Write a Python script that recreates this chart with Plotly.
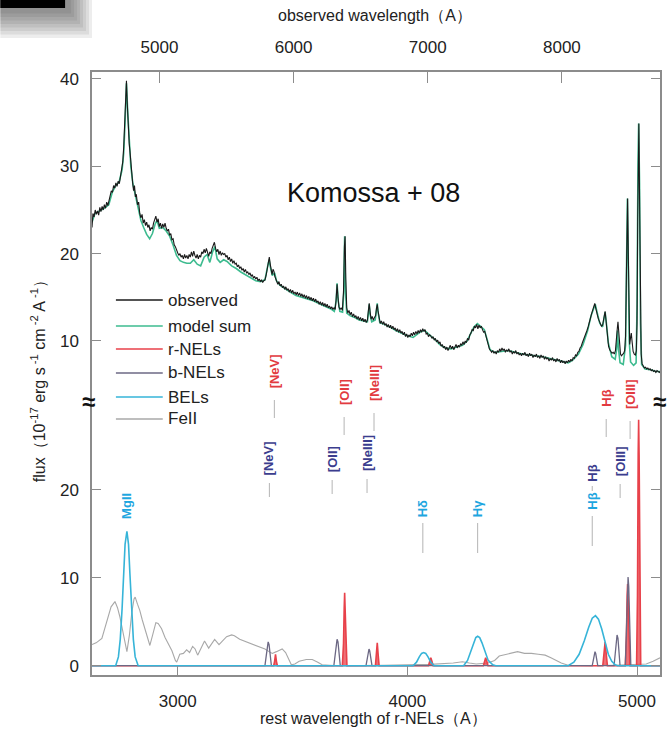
import plotly.graph_objects as go

# ---------------- data ----------------
Z_SHIFT = 0.712  # redshift: observed = rest * (1 + z)

# observed spectrum (rest wavelength [A], flux [1e-17 erg/s/cm2/A])
obs_spectrum = [
    (2627, 23.0), (2631, 24.6), (2636, 24.2), (2641, 25.0), (2646, 24.5), (2651, 24.9), (2656, 24.4),
    (2661, 25.3), (2666, 24.8), (2671, 25.4), (2676, 25.0), (2681, 25.6), (2686, 25.2), (2691, 25.9),
    (2696, 25.5), (2701, 26.2), (2706, 26.6), (2711, 27.2), (2716, 27.0), (2721, 27.8), (2726, 27.5),
    (2731, 28.1), (2736, 27.7), (2741, 28.3), (2746, 28.0), (2751, 28.9), (2756, 29.6), (2761, 30.5),
    (2765, 32.2), (2769, 34.6), (2773, 37.0), (2777, 39.8), (2780, 37.5), (2783, 35.0), (2786, 33.6),
    (2789, 32.6), (2792, 31.8), (2796, 30.2), (2800, 29.4), (2804, 28.1), (2808, 27.2), (2812, 27.8),
    (2816, 26.5), (2820, 26.8), (2825, 25.6), (2830, 25.9), (2835, 24.6), (2840, 24.1), (2845, 24.5),
    (2850, 23.5), (2855, 23.9), (2860, 23.2), (2865, 23.6), (2870, 23.0), (2875, 23.3), (2880, 22.6),
    (2885, 23.0), (2890, 22.8), (2895, 23.5), (2900, 23.8), (2905, 24.3), (2910, 23.6), (2915, 24.0),
    (2920, 23.1), (2925, 23.5), (2930, 22.9), (2935, 23.4), (2940, 23.0), (2945, 23.5), (2950, 22.9),
    (2955, 22.6), (2960, 22.8), (2965, 22.1), (2970, 22.3), (2975, 21.6), (2980, 21.7), (2985, 21.0),
    (2990, 20.8), (2995, 20.3), (3000, 20.1), (3005, 19.8), (3010, 20.0), (3015, 19.6), (3020, 19.8),
    (3025, 19.4), (3030, 19.9), (3035, 19.5), (3040, 19.8), (3045, 19.4), (3050, 19.9), (3055, 19.6),
    (3060, 20.2), (3065, 19.7), (3070, 20.3), (3075, 19.8), (3080, 19.5), (3085, 19.9), (3090, 19.4),
    (3095, 19.8), (3100, 19.6), (3105, 20.2), (3110, 20.0), (3115, 20.5), (3120, 20.1), (3125, 20.6),
    (3130, 20.0), (3135, 19.7), (3140, 20.2), (3145, 20.0), (3150, 20.6), (3155, 21.0), (3160, 21.3),
    (3165, 20.6), (3170, 20.2), (3175, 20.5), (3180, 19.9), (3185, 20.3), (3190, 19.8), (3195, 20.1),
    (3200, 19.9), (3205, 20.0), (3210, 19.6), (3215, 19.8), (3220, 19.3), (3225, 19.6), (3230, 19.1),
    (3235, 19.4), (3240, 18.9), (3245, 19.2), (3250, 18.8), (3255, 18.9), (3260, 18.5), (3265, 18.7),
    (3270, 18.3), (3275, 18.5), (3280, 18.1), (3285, 18.3), (3290, 17.9), (3295, 18.2), (3300, 17.8),
    (3305, 17.9), (3310, 17.6), (3315, 17.8), (3320, 17.4), (3325, 17.6), (3330, 17.2), (3335, 17.4),
    (3340, 17.1), (3345, 17.3), (3350, 16.9), (3355, 17.1), (3360, 16.8), (3365, 17.0), (3370, 16.7),
    (3375, 16.9), (3380, 17.0), (3385, 17.5), (3390, 18.4), (3395, 19.3), (3399, 19.6), (3403, 18.8),
    (3407, 18.0), (3411, 17.6), (3415, 18.2), (3419, 18.0), (3423, 17.4), (3427, 17.1), (3431, 16.9),
    (3436, 16.5), (3441, 16.8), (3446, 16.3), (3451, 16.5), (3456, 16.1), (3461, 16.3), (3466, 15.9),
    (3471, 16.2), (3476, 15.8), (3481, 16.0), (3486, 15.6), (3491, 15.9), (3496, 15.5), (3501, 15.8),
    (3506, 15.4), (3511, 15.6), (3516, 15.3), (3521, 15.6), (3526, 15.2), (3531, 15.5), (3536, 15.1),
    (3541, 15.4), (3546, 15.0), (3551, 15.3), (3556, 14.9), (3561, 15.2), (3566, 14.8), (3571, 15.1),
    (3576, 14.7), (3581, 15.0), (3586, 14.6), (3591, 14.9), (3596, 14.5), (3601, 14.8), (3606, 14.4),
    (3611, 14.6), (3616, 14.2), (3621, 14.5), (3626, 14.1), (3631, 14.4), (3636, 14.0), (3641, 14.3),
    (3646, 13.9), (3651, 14.2), (3656, 13.8), (3661, 14.0), (3666, 13.7), (3671, 13.9), (3676, 13.6),
    (3681, 13.8), (3686, 13.6), (3690, 14.8), (3694, 16.5), (3698, 15.0), (3702, 13.9), (3707, 13.6),
    (3712, 13.8), (3717, 13.5), (3722, 15.6), (3726, 20.8), (3729, 22.0), (3732, 17.2), (3736, 13.8),
    (3741, 13.2), (3746, 13.5), (3751, 13.0), (3756, 13.3), (3761, 12.8), (3766, 13.1), (3771, 12.7),
    (3776, 12.9), (3781, 12.5), (3786, 12.8), (3791, 12.4), (3796, 12.7), (3801, 12.3), (3806, 12.6),
    (3811, 12.2), (3816, 12.5), (3821, 12.1), (3826, 12.4), (3830, 13.4), (3834, 14.3), (3838, 13.3),
    (3842, 12.5), (3847, 12.8), (3852, 12.4), (3857, 12.7), (3862, 12.9), (3866, 13.8), (3869, 14.2),
    (3872, 13.5), (3877, 12.4), (3882, 12.0), (3887, 12.3), (3892, 11.9), (3897, 12.2), (3902, 11.8),
    (3907, 12.0), (3912, 11.6), (3917, 11.9), (3922, 11.5), (3927, 11.8), (3932, 11.4), (3937, 11.7),
    (3942, 11.3), (3947, 11.5), (3952, 11.1), (3957, 11.4), (3962, 11.0), (3967, 11.3), (3972, 10.9),
    (3977, 11.1), (3982, 10.7), (3987, 11.0), (3992, 10.5), (3997, 10.8), (4002, 10.4), (4007, 10.7),
    (4012, 10.5), (4017, 10.9), (4022, 10.6), (4027, 11.0), (4032, 10.7), (4037, 11.1), (4042, 10.8),
    (4047, 11.2), (4052, 10.9), (4057, 11.3), (4062, 11.0), (4067, 11.4), (4072, 11.1), (4077, 11.3),
    (4082, 10.8), (4087, 10.9), (4092, 10.5), (4097, 10.7), (4102, 10.6), (4107, 10.3), (4112, 10.5),
    (4117, 10.1), (4122, 10.3), (4127, 9.9), (4132, 10.1), (4137, 9.7), (4142, 9.9), (4147, 9.4),
    (4152, 9.6), (4157, 9.2), (4162, 9.4), (4167, 9.0), (4172, 9.3), (4177, 8.9), (4182, 9.2),
    (4187, 9.5), (4192, 9.1), (4197, 9.4), (4202, 9.0), (4207, 9.3), (4212, 9.6), (4217, 9.2),
    (4222, 9.5), (4227, 9.3), (4232, 9.7), (4237, 9.5), (4242, 9.9), (4247, 9.6), (4252, 10.0),
    (4257, 9.8), (4262, 10.3), (4267, 10.1), (4272, 10.7), (4277, 10.9), (4282, 11.3), (4287, 11.2),
    (4292, 11.7), (4297, 11.5), (4302, 11.9), (4307, 11.4), (4312, 11.8), (4317, 11.5), (4322, 11.7),
    (4327, 11.3), (4332, 11.0), (4337, 11.1), (4342, 10.6), (4347, 10.0), (4352, 9.5), (4357, 9.1),
    (4362, 8.9), (4367, 8.7), (4372, 8.9), (4377, 8.6), (4382, 8.8), (4387, 8.5), (4392, 8.9),
    (4397, 8.7), (4402, 9.1), (4407, 8.8), (4412, 9.2), (4417, 8.9), (4422, 9.1), (4427, 8.7),
    (4432, 9.0), (4437, 8.8), (4442, 9.1), (4447, 8.7), (4452, 8.9), (4457, 8.5), (4462, 8.8),
    (4467, 8.6), (4472, 8.9), (4477, 8.5), (4482, 8.7), (4487, 8.4), (4492, 8.6), (4497, 8.3),
    (4502, 8.6), (4507, 8.4), (4512, 8.7), (4517, 8.3), (4522, 8.5), (4527, 8.2), (4532, 8.6),
    (4537, 8.3), (4542, 8.5), (4547, 8.1), (4552, 8.4), (4557, 8.2), (4562, 8.5), (4567, 8.1),
    (4572, 8.3), (4577, 8.0), (4582, 8.4), (4587, 8.1), (4592, 8.3), (4597, 7.9), (4602, 8.2),
    (4607, 7.9), (4612, 8.1), (4617, 7.7), (4622, 8.0), (4627, 7.8), (4632, 8.1), (4637, 7.7),
    (4642, 7.9), (4647, 7.6), (4652, 8.0), (4657, 7.7), (4662, 7.9), (4667, 7.5), (4672, 7.8),
    (4677, 7.5), (4682, 7.7), (4687, 7.4), (4692, 7.7), (4697, 7.5), (4702, 7.8), (4707, 7.6),
    (4712, 7.9), (4717, 7.7), (4722, 8.1), (4727, 8.0), (4732, 8.4), (4737, 8.3), (4742, 8.7),
    (4747, 8.8), (4752, 9.2), (4757, 9.4), (4762, 9.8), (4767, 10.1), (4772, 10.5), (4777, 10.8),
    (4782, 11.2), (4787, 11.6), (4792, 12.0), (4797, 12.6), (4802, 13.1), (4807, 13.6), (4812, 14.0),
    (4816, 14.3), (4820, 13.8), (4824, 13.2), (4828, 12.9), (4832, 12.5), (4836, 12.2), (4840, 11.9),
    (4845, 11.7), (4850, 11.8), (4854, 12.4), (4858, 13.2), (4861, 13.4), (4864, 12.6), (4868, 11.2),
    (4872, 10.0), (4876, 9.4), (4881, 9.0), (4886, 8.8), (4891, 8.6), (4896, 8.7), (4901, 8.5),
    (4906, 8.9), (4910, 9.8), (4914, 11.4), (4917, 12.2), (4920, 11.0), (4924, 9.2), (4928, 8.5),
    (4932, 8.3), (4937, 8.4), (4942, 8.6), (4946, 8.9), (4950, 10.5), (4954, 18.0), (4957, 24.5),
    (4959, 26.3), (4962, 20.0), (4965, 12.0), (4968, 9.6), (4972, 10.4), (4975, 10.9), (4979, 9.8),
    (4983, 8.8), (4988, 8.5), (4993, 8.4), (4997, 8.9), (5000, 12.0), (5003, 24.0), (5006, 33.5),
    (5008, 34.9), (5011, 26.5), (5014, 14.0), (5018, 8.5), (5022, 7.4), (5027, 7.2), (5032, 6.9),
    (5037, 7.0), (5042, 6.8), (5047, 6.9), (5052, 6.7), (5057, 6.8), (5062, 6.6), (5067, 6.7),
    (5072, 6.5), (5077, 6.6), (5082, 6.4), (5087, 6.6), (5092, 6.5), (5097, 6.4), (5100, 6.5),
]

# sum of all fitted components
model_spectrum = [
    (2627, 23.6), (2640, 24.6), (2660, 24.9), (2680, 25.2), (2700, 25.6), (2715, 27.0), (2730, 27.8),
    (2745, 28.2), (2758, 29.6), (2765, 31.5), (2771, 35.0), (2777, 39.5), (2783, 36.0), (2789, 32.5),
    (2796, 30.0), (2805, 28.0), (2815, 26.8), (2828, 25.0), (2840, 23.8), (2852, 23.0), (2865, 22.2),
    (2878, 21.7), (2890, 22.3), (2902, 23.4), (2910, 23.8), (2920, 22.9), (2935, 23.0), (2950, 22.6),
    (2965, 22.0), (2980, 21.0), (2995, 19.8), (3010, 19.2), (3025, 19.0), (3040, 18.9), (3055, 18.9),
    (3070, 19.3), (3085, 18.8), (3100, 18.6), (3115, 19.6), (3128, 19.9), (3140, 19.0), (3152, 20.2),
    (3162, 20.8), (3172, 19.4), (3185, 19.0), (3200, 19.3), (3215, 19.1), (3235, 18.6), (3255, 18.3),
    (3275, 17.9), (3300, 17.5), (3320, 17.2), (3340, 16.9), (3360, 16.8), (3380, 17.0), (3392, 18.6),
    (3398, 19.3), (3404, 18.4), (3412, 17.5), (3422, 17.8), (3430, 16.9), (3445, 16.4), (3465, 16.0),
    (3490, 15.6), (3515, 15.2), (3540, 15.0), (3565, 14.8), (3590, 14.6), (3615, 14.3), (3640, 14.0),
    (3665, 13.7), (3682, 13.4), (3690, 14.6), (3694, 16.6), (3699, 14.6), (3706, 13.4), (3718, 13.3),
    (3723, 15.5), (3727, 22.0), (3731, 15.5), (3736, 13.2), (3750, 12.9), (3770, 12.7), (3790, 12.4),
    (3810, 12.3), (3826, 12.2), (3831, 13.3), (3834, 14.2), (3838, 13.0), (3845, 12.2), (3860, 12.4),
    (3865, 13.5), (3869, 14.3), (3873, 13.2), (3880, 12.1), (3900, 11.9), (3925, 11.6), (3950, 11.2),
    (3975, 10.9), (4000, 10.6), (4025, 10.4), (4045, 10.8), (4060, 11.1), (4075, 11.2), (4090, 10.8),
    (4105, 10.5), (4120, 10.2), (4140, 9.6), (4165, 9.2), (4190, 9.1), (4215, 9.3), (4240, 9.5),
    (4260, 10.0), (4275, 10.8), (4290, 11.6), (4305, 12.0), (4320, 11.7), (4335, 11.3), (4348, 10.1),
    (4360, 9.0), (4380, 8.7), (4410, 8.8), (4440, 8.9), (4470, 8.7), (4500, 8.5), (4530, 8.4),
    (4560, 8.3), (4590, 8.2), (4620, 8.0), (4650, 7.8), (4680, 7.6), (4700, 7.5), (4720, 7.8),
    (4745, 8.5), (4765, 9.6), (4785, 11.2), (4800, 12.9), (4812, 13.9), (4818, 14.2), (4826, 13.3),
    (4838, 12.0), (4850, 11.6), (4857, 12.8), (4861, 13.3), (4866, 12.2), (4875, 9.8), (4890, 8.2),
    (4905, 7.9), (4911, 9.0), (4915, 11.2), (4919, 9.2), (4926, 7.5), (4940, 7.3), (4950, 9.5),
    (4954, 18.0), (4958, 26.3), (4962, 19.0), (4966, 10.0), (4972, 7.6), (4985, 7.2), (4996, 7.5),
    (5000, 14.0), (5004, 30.0), (5007, 34.9), (5011, 28.0), (5015, 12.0), (5020, 7.3), (5035, 6.8),
    (5060, 6.7), (5080, 6.5), (5100, 6.5),
]

# red narrow emission lines
r_nel_spectrum = [
    (2627, 0), (3418, 0), (3422, 0.5), (3426, 1.3), (3430, 0.5), (3434, 0),
    (3717, 0), (3722, 2.5), (3725, 6.5), (3727, 8.3), (3729, 6.5), (3732, 2.5), (3737, 0),
    (3861, 0), (3865, 1.2), (3869, 2.6), (3873, 1.2), (3877, 0),
    (4092, 0), (4097, 0.5), (4102, 0.9), (4107, 0.5), (4112, 0),
    (4331, 0), (4336, 0.5), (4341, 0.9), (4346, 0.5), (4351, 0),
    (4851, 0), (4856, 1.3), (4861, 2.7), (4866, 1.3), (4871, 0),
    (4949, 0), (4954, 3.5), (4957, 8.0), (4959, 9.3), (4961, 8.0), (4964, 3.5), (4969, 0),
    (4998, 0), (5002, 8.0), (5005, 24.0), (5007, 28.0), (5009, 24.0), (5012, 8.0), (5016, 0),
    (5100, 0),
]

# blueshifted narrow emission lines
b_nel_spectrum = [
    (2627, 0), (3380, 0), (3386, 1.2), (3390, 2.4), (3394, 2.7), (3398, 2.4), (3402, 1.2), (3408, 0),
    (3680, 0), (3686, 1.3), (3690, 2.7), (3694, 3.0), (3698, 2.7), (3702, 1.3), (3708, 0),
    (3820, 0), (3826, 0.8), (3830, 1.7), (3833, 1.9), (3836, 1.7), (3840, 0.8), (3846, 0),
    (4805, 0), (4810, 0.7), (4814, 1.4), (4817, 1.6), (4820, 1.4), (4824, 0.7), (4829, 0),
    (4900, 0), (4905, 1.5), (4909, 3.1), (4913, 3.5), (4917, 3.1), (4921, 1.5), (4926, 0),
    (4949, 0), (4954, 4.5), (4958, 9.0), (4961, 10.1), (4964, 9.0), (4968, 4.5), (4973, 0),
    (5100, 0),
]

# broad emission lines: MgII, Hdelta, Hgamma, Hbeta
bel_spectrum = [
    (2627, 0), (2730, 0), (2742, 1.0), (2750, 3.0), (2758, 6.5), (2765, 10.5), (2771, 13.8), (2779, 15.3),
    (2786, 13.8), (2792, 10.5), (2799, 6.5), (2807, 3.0), (2815, 1.0), (2828, 0),
    (4025, 0), (4040, 0.4), (4052, 1.0), (4062, 1.4), (4071, 1.5), (4080, 1.4), (4090, 1.0), (4102, 0.4), (4117, 0),
    (4245, 0), (4262, 0.6), (4276, 1.6), (4288, 2.7), (4298, 3.2), (4306, 3.35), (4315, 3.2), (4325, 2.6),
    (4338, 1.5), (4352, 0.6), (4372, 0.1), (4385, 0),
    (4700, 0), (4725, 0.4), (4748, 1.3), (4770, 2.8), (4790, 4.4), (4805, 5.4), (4819, 5.7), (4832, 5.3),
    (4846, 4.2), (4860, 2.7), (4875, 1.3), (4890, 0.5), (4905, 0.1), (4915, 0),
    (5100, 0),
]

# FeII pseudo-continuum
feii_spectrum = [
    (2627, 2.4), (2645, 2.6), (2670, 3.1), (2685, 4.4), (2696, 5.6), (2710, 6.7), (2727, 7.3), (2738, 6.6),
    (2748, 5.6), (2760, 4.2), (2770, 3.0), (2779, 1.6), (2790, 3.5), (2800, 6.0), (2810, 7.6), (2815, 7.8),
    (2825, 7.0), (2835, 6.3), (2846, 5.2), (2857, 4.3), (2868, 3.2), (2879, 2.3), (2892, 3.6), (2905, 4.9),
    (2915, 4.8), (2930, 4.2), (2945, 3.2), (2960, 2.4), (2975, 1.7), (2990, 0.6), (2996, 0.4), (3009, 1.3),
    (3025, 1.4), (3039, 1.8), (3052, 1.5), (3065, 2.2), (3076, 1.9), (3087, 1.2), (3100, 1.9), (3117, 2.8),
    (3135, 2.0), (3150, 2.5), (3161, 3.0), (3180, 2.4), (3200, 3.0), (3213, 3.3), (3235, 3.5), (3247, 3.4),
    (3270, 3.0), (3290, 2.8), (3312, 2.5), (3335, 2.3), (3356, 2.1), (3380, 1.9), (3398, 1.6), (3412, 1.4),
    (3430, 1.6), (3455, 1.9), (3470, 1.5), (3485, 0.6), (3495, 0.1), (3510, 0.2), (3529, 0.5), (3560, 0.7),
    (3586, 0.7), (3610, 0.4), (3629, 0.1), (3660, 0.05), (3700, 0.0), (3900, 0.05), (4000, 0.1),
    (4100, 0.15), (4200, 0.3), (4240, 0.45), (4270, 0.3), (4300, 0.2), (4350, 0.3), (4380, 0.6),
    (4400, 1.1), (4430, 1.3), (4460, 1.5), (4480, 1.6), (4510, 1.4), (4540, 1.4), (4570, 1.3), (4600, 1.2),
    (4625, 0.9), (4645, 0.6), (4670, 0.3), (4700, 0.05), (4800, 0.0), (4900, 0.05), (5000, 0.1),
    (5040, 0.2), (5070, 0.5), (5100, 0.9),
]

legend_names = ["observed", "model sum", "r-NELs", "b-NELs", "BELs", "FeII"]

# line identifications: (text, pixel x, pixel y of text bottom)
r_nel_labels = [("[NeV]", 275, 390), ("[OII]", 345, 407), ("[NeIII]", 375, 403),
                ("H\u03b2", 608, 409), ("[OIII]", 632, 411)]
b_nel_labels = [("[NeV]", 270, 477), ("[OII]", 333, 474), ("[NeIII]", 368, 473),
                ("H\u03b2", 594, 484), ("[OIII]", 622, 478)]
bel_labels = [("MgII", 126, 521), ("H\u03b4", 424, 519), ("H\u03b3", 479, 519), ("H\u03b2", 594, 512)]

# ---------------- style ----------------
C_OBS = "#1a1a1a"
C_MODEL = "#3dbb8f"
C_RNEL = "#e8414a"
C_BNEL = "#6c6884"
C_BEL = "#36b4d8"
C_FEII = "#a8a8a8"
C_RLAB = "#e23a40"
C_BLAB = "#3b3d8e"
C_CLAB = "#1ea6df"
C_SEG = "#b4b4b4"
C_FRAME = "#8c8c8c"
FONT = "Liberation Sans, Arial, sans-serif"

# plot area in pixels
L, R, T, B = 92, 662, 72, 675
W_PX, H_PX = R - L, B - T


def px(x):
    return (x - L) / W_PX


def py(y):
    return (B - y) / H_PX


split = py(400)
rest_range = [2627, 5100]
upper_range = [3.24, 40.8]
lower_range = [-1.06, 30.24]


def xy(points):
    return [p[0] for p in points], [p[1] for p in points]


fig = go.Figure()

# upper panel: observed and model
mx, my = xy(model_spectrum)
fig.add_trace(go.Scatter(x=mx, y=my, mode="lines", line=dict(color=C_MODEL, width=1.6),
                         xaxis="x2", yaxis="y2", name="model sum"))
ox, oy = xy(obs_spectrum)
fig.add_trace(go.Scatter(x=ox, y=oy, mode="lines", line=dict(color=C_OBS, width=1.1),
                         xaxis="x2", yaxis="y2", name="observed"))

# lower panel: components
fx, fy = xy(feii_spectrum)
fig.add_trace(go.Scatter(x=fx, y=fy, mode="lines", line=dict(color=C_FEII, width=1.1), name="FeII"))
rx, ry = xy(r_nel_spectrum)
fig.add_trace(go.Scatter(x=rx, y=ry, mode="lines", line=dict(color=C_RNEL, width=1.6),
                         fill="tozeroy", fillcolor="rgba(232,65,74,0.75)", name="r-NELs"))
bx, by = xy(b_nel_spectrum)
fig.add_trace(go.Scatter(x=bx, y=by, mode="lines", line=dict(color=C_BNEL, width=1.3), name="b-NELs"))
cx, cy = xy(bel_spectrum)
fig.add_trace(go.Scatter(x=cx, y=cy, mode="lines", line=dict(color=C_BEL, width=1.6), name="BELs"))

tickfont = dict(family=FONT, size=17, color="#222")
axis_common = dict(showgrid=False, zeroline=False, showline=True, linecolor=C_FRAME, linewidth=1.5,
                   ticks="inside", tickcolor=C_FRAME, tickwidth=1.2, tickfont=tickfont)

fig.update_layout(
    width=668, height=731,
    margin=dict(l=L, r=668 - R, t=T, b=731 - B),
    paper_bgcolor="white", plot_bgcolor="white",
    showlegend=False,
    font=dict(family=FONT, color="#222"),
    xaxis=dict(domain=[0, 1], range=rest_range, anchor="y", tickvals=[3000, 4000, 5000],
               ticklen=9, ticklabelstandoff=10, **axis_common),
    xaxis2=dict(domain=[0, 1], range=rest_range, anchor="y2", matches="x", showgrid=False,
                zeroline=False, showline=False, showticklabels=False, ticks=""),
    xaxis3=dict(range=[rest_range[0] * (1 + Z_SHIFT), rest_range[1] * (1 + Z_SHIFT)],
                overlaying="x2", anchor="y2", side="top", tickvals=[5000, 6000, 7000, 8000],
                ticklen=11, ticklabelstandoff=10, **axis_common),
    yaxis=dict(domain=[0, split], range=lower_range, tickvals=[0, 10, 20], mirror="ticks",
               ticklen=9, ticklabelstandoff=8, **axis_common),
    yaxis2=dict(domain=[split, 1], range=upper_range, tickvals=[10, 20, 30, 40], mirror="ticks",
                ticklen=9, ticklabelstandoff=8, **axis_common),
)
# invisible trace so the top axis is rendered
fig.add_trace(go.Scatter(x=[rest_range[0] * (1 + Z_SHIFT)], y=[None], xaxis="x3", yaxis="y2",
                         mode="lines", hoverinfo="skip", showlegend=False))

ann = []
shapes = []


def add_text(text, x, y, size, color="#222", angle=0, xanchor="center", yanchor="middle"):
    ann.append(dict(text=text, x=px(x), y=py(y), xref="paper", yref="paper", showarrow=False,
                    textangle=angle, xanchor=xanchor, yanchor=yanchor,
                    font=dict(family=FONT, size=size, color=color)))


# axis titles
add_text("observed wavelength\uff08A\uff09", 376, 15, 16)
add_text("rest wavelength of r-NELs\uff08A\uff09", 374, 718, 16)
add_text("flux\uff0810<sup>-17</sup> erg s<sup> -1</sup> cm<sup> -2</sup> A<sup> -1</sup>\uff09",
         38, 377, 16, angle=-90)
add_text("Komossa + 08", 374, 193, 27, color="#111")

# axis break marks
for bx_px in (88, 661):
    add_text("<b>\u2248</b>", bx_px, 401, 24, color="#111")

# legend drawn by hand
legend_colors = [C_OBS, C_MODEL, C_RNEL, C_BNEL, C_BEL, C_FEII]
legend_y = [300, 326, 349, 373, 397, 419]
for name, col, ly in zip(legend_names, legend_colors, legend_y):
    shapes.append(dict(type="line", xref="paper", yref="paper", x0=px(116), x1=px(163),
                       y0=py(ly), y1=py(ly), line=dict(color=col, width=1.4)))
    add_text(name, 166, ly, 17, xanchor="left")


def add_label(text, x, ybot, color):
    add_text("<b>" + text + "</b>", x, ybot, 13, color=color, angle=-90, yanchor="bottom")


def add_seg(x, y0, y1):
    shapes.append(dict(type="line", xref="paper", yref="paper", x0=px(x), x1=px(x),
                       y0=py(y0), y1=py(y1), line=dict(color=C_SEG, width=1)))


for text, x, yb in r_nel_labels:
    add_label(text, x, yb, C_RLAB)
    add_seg(x, yb + 10, yb + 28)
for text, x, yb in b_nel_labels:
    add_label(text, x, yb, C_BLAB)
    if text != "H\u03b2":
        add_seg(x, yb + 6, yb + 20)
    else:
        add_seg(x, yb + 2, yb + 7)
for text, x, yb in bel_labels:
    add_label(text, x, yb, C_CLAB)
    if text != "MgII":
        add_seg(x, yb + 4, yb + 34)

# dark bar with soft shadow in the top-left corner
for k in range(8):
    shapes.append(dict(type="rect", xref="paper", yref="paper", x0=px(0), x1=px(92 - 3 * k),
                       y0=py(0), y1=py(38 - 3.5 * k), fillcolor="#3a3a3a", opacity=0.09,
                       line=dict(width=0), layer="above"))
shapes.append(dict(type="rect", xref="paper", yref="paper", x0=px(0), x1=px(65), y0=py(0), y1=py(8),
                   fillcolor="#000000", line=dict(width=0), layer="above"))

fig.update_layout(annotations=ann, shapes=shapes)
fig.write_html("out.html")
